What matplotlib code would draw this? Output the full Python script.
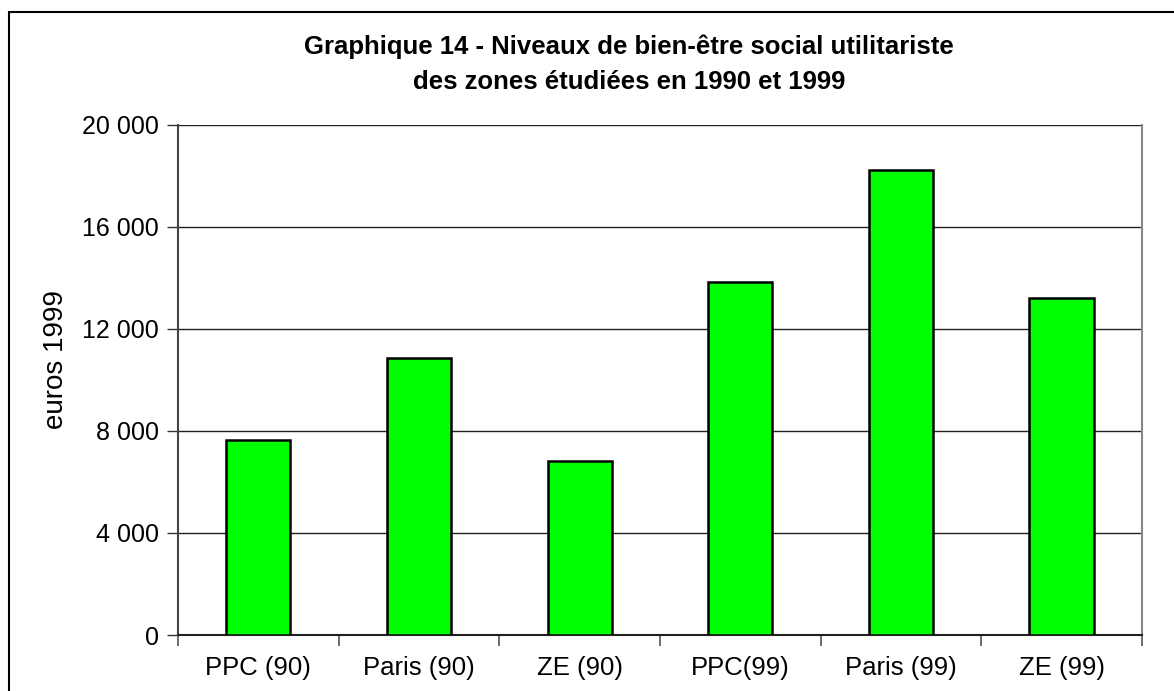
import numpy as np
import matplotlib
matplotlib.use('Agg')
import matplotlib.pyplot as plt
from matplotlib.patches import Rectangle
from matplotlib.ticker import FuncFormatter

plt.rcParams['font.family'] = ['Liberation Sans', 'DejaVu Sans']

categories = ['PPC (90)', 'Paris (90)', 'ZE (90)', 'PPC(99)', 'Paris (99)', 'ZE (99)']
values = [7660, 10870, 6800, 13830, 18230, 13220]
yticks = [0, 4000, 8000, 12000, 16000, 20000]

fig = plt.figure(figsize=(11.74, 6.91), dpi=100)
ax = fig.add_axes([0.1516, 0.081, 0.8211, 0.7388])

x = np.arange(len(categories))
ax.bar(x, values, width=0.4, color='#00ff00', edgecolor='black', linewidth=1.8, zorder=3)

ax.set_xlim(-0.5, len(categories) - 0.5)
ax.set_ylim(0, 20000)
ax.set_yticks(yticks)
ax.yaxis.set_major_formatter(FuncFormatter(lambda v, p: '{:,}'.format(int(v)).replace(',', ' ')))
ax.grid(axis='y', color='#222222', linewidth=1, zorder=0)

# ticks between categories, labels centred under bars
ax.set_xticks(np.arange(-0.5, len(categories), 1.0))
ax.set_xticklabels([])
ax.set_xticks(x, minor=True)
ax.set_xticklabels(categories, minor=True)
ax.tick_params(axis='x', which='major', length=8, width=1.2, color='#555555', direction='out')
ax.tick_params(axis='x', which='minor', length=0, pad=15, labelsize=18.5)
ax.tick_params(axis='y', length=8, width=1, color='#333333', direction='out', pad=6, labelsize=18)

ax.spines['top'].set_visible(False)
ax.spines['left'].set_color('#444444')
ax.spines['left'].set_linewidth(1.5)
ax.spines['right'].set_color('#888888')
ax.spines['right'].set_linewidth(1.5)
ax.spines['bottom'].set_color('#222222')
ax.spines['bottom'].set_linewidth(1.5)

ax.set_ylabel('euros 1999', fontsize=20)
ax.yaxis.set_label_coords(-0.113, 0.54)

fig.text(0.536, 0.933, 'Graphique 14 - Niveaux de bien-être social utilitariste',
         ha='center', va='center', fontsize=18.5, fontweight='bold')
fig.text(0.536, 0.882, 'des zones étudiées en 1990 et 1999',
         ha='center', va='center', fontsize=18.5, fontweight='bold')

# outer chart frame, cut by the image edges on the right and bottom
fig.patches.append(Rectangle((9 / 1174, -0.1), 1.2, 1 - 12 / 691 + 0.1, transform=fig.transFigure,
                             fill=False, edgecolor='black', linewidth=1.5))

plt.savefig('out.png', dpi=100)
